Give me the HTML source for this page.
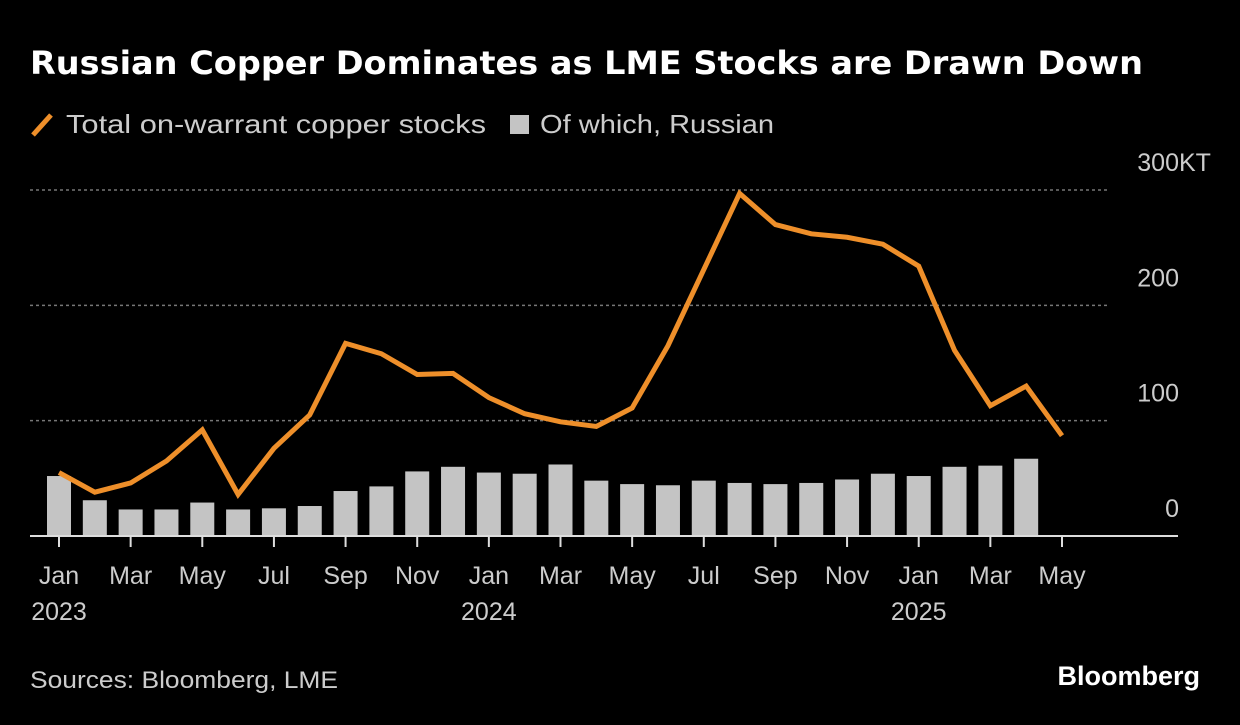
<!DOCTYPE html>
<html><head><meta charset="utf-8">
<style>
body{margin:0;background:#000;width:1240px;height:720px;overflow:hidden;font-family:"Liberation Sans",sans-serif;color:#fff}
</style></head>
<body>
<svg width="1240" height="720" xmlns="http://www.w3.org/2000/svg" id="svg">
<rect width="1240" height="720" fill="#000"/>
<text x="30" y="74" font-size="32" font-weight="bold" fill="#fff" font-family="DejaVu Sans, sans-serif" textLength="1113" lengthAdjust="spacingAndGlyphs">Russian Copper Dominates as LME Stocks are Drawn Down</text>
<g font-size="26" fill="#ccc" font-family="Liberation Sans, sans-serif">
<line x1="33" y1="135" x2="51" y2="115" stroke="#ee8f2a" stroke-width="5"/>
<text x="66" y="133" textLength="420" lengthAdjust="spacingAndGlyphs">Total on-warrant copper stocks</text>
<rect x="510" y="115" width="19" height="19" fill="#c4c4c4"/>
<text x="540" y="133" textLength="234" lengthAdjust="spacingAndGlyphs">Of which, Russian</text>
</g>
<g id="grid"></g><g id="bars"></g><g id="line"></g><g id="xaxis"></g>
<text x="30" y="688" font-size="24" fill="#ccc" font-family="Liberation Sans, sans-serif" textLength="308" lengthAdjust="spacingAndGlyphs">Sources: Bloomberg, LME</text>
<text x="1200" y="685" text-anchor="end" font-size="27" font-weight="bold" fill="#fff" font-family="Liberation Sans, sans-serif">Bloomberg</text>
</svg>
<script>
const totalStocks=[55,38,46,65,92,36,76,105,167,158,140,141,120,106,99,95,111,165,231,297,270,262,259,253,234,161,113,130,87];
const russianStocks=[52,31,23,23,29,23,24,26,39,43,56,60,55,54,62,48,45,44,48,46,45,46,49,54,52,60,61,67];
const yTicks=[0,100,200,300];
const yTickLabels=["0","100","200","300"];
const xTickMonths=[0,2,4,6,8,10,12,14,16,18,20,22,24,26,28];
const xTickLabels=["Jan","Mar","May","Jul","Sep","Nov","Jan","Mar","May","Jul","Sep","Nov","Jan","Mar","May"];
const yearLabels=[[0,"2023"],[12,"2024"],[24,"2025"]];
const NS="http://www.w3.org/2000/svg";
const x=m=>59+m*(1062-59)/28;
const y=v=>536-v*(536-190)/300;
function mk(t,a,p){const e=document.createElementNS(NS,t);for(const k in a)e.setAttribute(k,a[k]);p.appendChild(e);return e;}
const grid=document.getElementById('grid');
yTicks.forEach((v,i)=>{
 if(v>0){const l=mk('line',{x1:30,x2:1108,y1:y(v),y2:y(v),stroke:'#777','stroke-width':1.5,'stroke-dasharray':'3,3'},grid);
 
 }
 const t=mk('text',{x:1179,y:y(v)-19,'text-anchor':'end','font-size':25,fill:'#ccc','font-family':'Liberation Sans, sans-serif'},grid);
 t.textContent=yTickLabels[i];
 
 
 if(i===yTicks.length-1){
  const u=mk('text',{x:1179,y:y(v)-19,'font-size':25,fill:'#ccc','font-family':'Liberation Sans, sans-serif'},grid);
  u.textContent='KT';
  
  
 }
});
const bars=document.getElementById('bars');
russianStocks.forEach((v,i)=>{
 const r=mk('rect',{x:x(i)-12,y:y(v),width:24,height:y(0)-y(v),fill:'#c4c4c4'},bars);
 
 
});
const base=mk('line',{x1:30,x2:1178,y1:y(0),y2:y(0),stroke:'#ddd','stroke-width':2},bars);


const p=mk('polyline',{points:totalStocks.map((v,i)=>x(i)+','+y(v)).join(' '),fill:'none',stroke:'#ee8f2a','stroke-width':5,'stroke-linejoin':'miter'},document.getElementById('line'));


const xa=document.getElementById('xaxis');
xTickMonths.forEach((m,i)=>{
 const tk=mk('line',{x1:x(m),x2:x(m),y1:y(0),y2:y(0)+11,stroke:'#ddd','stroke-width':2},xa);
 
 
 const t=mk('text',{x:x(m),y:584,'text-anchor':'middle','font-size':25,fill:'#ccc','font-family':'Liberation Sans, sans-serif'},xa);
 t.textContent=xTickLabels[i];
 
 
});
yearLabels.forEach(([m,l])=>{
 const t=mk('text',{x:x(m),y:620,'text-anchor':'middle','font-size':25,fill:'#ccc','font-family':'Liberation Sans, sans-serif'},xa);
 t.textContent=l;
 
 
});
</script>
</body></html>
